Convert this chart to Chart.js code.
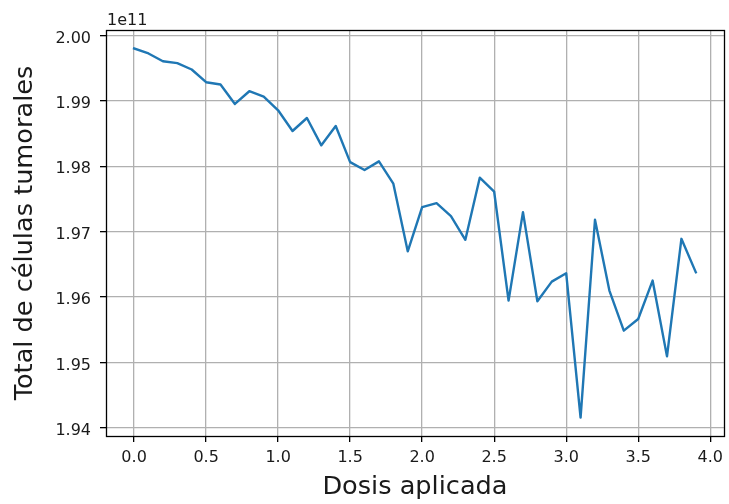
<!DOCTYPE html>
<html>
<head>
<meta charset="utf-8">
<script src="https://cdn.jsdelivr.net/npm/chart.js@4/dist/chart.umd.min.js"></script>
<style>
  html, body { margin: 0; padding: 0; background: #ffffff; }
  #wrap { width: 729px; height: 504px; position: relative; }
</style>
</head>
<body>
<div id="wrap"><canvas id="chart" width="729" height="504"></canvas></div>
<script>
// Applied dose (x) and total tumour cells (y, in units of 1e11)
const DOSE = [0.0, 0.1, 0.2, 0.3, 0.4, 0.5, 0.6, 0.7, 0.8, 0.9,
              1.0, 1.1, 1.2, 1.3, 1.4, 1.5, 1.6, 1.7, 1.8, 1.9,
              2.0, 2.1, 2.2, 2.3, 2.4, 2.5, 2.6, 2.7, 2.8, 2.9,
              3.0, 3.1, 3.2, 3.3, 3.4, 3.5, 3.6, 3.7, 3.8, 3.9];
const TOTAL = [1.99801, 1.99724, 1.99606, 1.99576, 1.99479, 1.99285, 1.99250, 1.98953, 1.99147, 1.99066,
               1.98856, 1.98539, 1.98738, 1.98320, 1.98616, 1.98064, 1.97942, 1.98075, 1.97734, 1.96700,
               1.97375, 1.97437, 1.97237, 1.96876, 1.97825, 1.97611, 1.95946, 1.97299, 1.95936, 1.96237,
               1.96365, 1.94159, 1.97182, 1.96100, 1.95487, 1.95666, 1.96253, 1.95094, 1.96891, 1.96380];
const X_TICKS = [0.0, 0.5, 1.0, 1.5, 2.0, 2.5, 3.0, 3.5, 4.0];
const Y_TICKS = [1.94, 1.95, 1.96, 1.97, 1.98, 1.99, 2.00];
const Y_EXPONENT = '1e11';
const X_TITLE = 'Dosis aplicada';
const Y_TITLE = 'Total de células tumorales';

// 5% padding around the data on both axes
function padded(values) {
  const lo = Math.min(...values), hi = Math.max(...values);
  const m = (hi - lo) * 0.05;
  return [lo - m, hi + m];
}
const [xMin, xMax] = padded(DOSE);
const [yMin, yMax] = padded(TOTAL);

const FONT = '"DejaVu Sans", sans-serif';
const TEXT = '#1a1a1a';

// Closed black frame around the plot area plus the exponent label
const framePlugin = {
  id: 'frame',
  afterDatasetsDraw(chart) {
    const { ctx, chartArea: a } = chart;
    ctx.save();
    ctx.strokeStyle = '#000';
    ctx.lineWidth = 1.3;
    ctx.strokeRect(Math.round(a.left) + 0.5, Math.round(a.top) + 0.5,
                   Math.round(a.right - a.left), Math.round(a.bottom - a.top));
    ctx.fillStyle = TEXT;
    ctx.font = '16px ' + FONT;
    ctx.textAlign = 'left';
    ctx.textBaseline = 'alphabetic';
    ctx.fillText(Y_EXPONENT, a.left + 1, a.top - 5);
    ctx.restore();
  }
};

new Chart(document.getElementById('chart'), {
  type: 'line',
  data: {
    datasets: [{
      data: DOSE.map((d, i) => ({ x: d, y: TOTAL[i] })),
      borderColor: '#1f77b4',
      borderWidth: 2.4,
      borderJoinStyle: 'round',
      borderCapStyle: 'square',
      pointRadius: 0,
      fill: false,
      tension: 0
    }]
  },
  options: {
    responsive: false,
    animation: false,
    layout: { padding: { top: 30, right: 3, left: 0, bottom: 0 } },
    plugins: { legend: { display: false }, tooltip: { enabled: false } },
    scales: {
      x: {
        type: 'linear',
        min: xMin,
        max: xMax,
        afterBuildTicks(scale) { scale.ticks = X_TICKS.map(v => ({ value: v })); },
        afterFit(scale) { scale.height = 68; },
        grid: { color: '#b0b0b0', lineWidth: 1.3, tickColor: '#000', tickLength: 6, tickWidth: 1.3 },
        border: { display: false },
        ticks: {
          color: TEXT, font: { family: FONT, size: 16 }, padding: 6, maxRotation: 0,
          callback: v => Number(v).toFixed(1)
        },
        title: {
          display: true, text: X_TITLE, color: TEXT,
          font: { family: FONT, size: 25.6 }, padding: { top: 0, bottom: 1 }
        }
      },
      y: {
        type: 'linear',
        min: yMin,
        max: yMax,
        afterBuildTicks(scale) { scale.ticks = Y_TICKS.map(v => ({ value: v })); },
        afterFit(scale) { scale.width = 106; },
        grid: { color: '#b0b0b0', lineWidth: 1.3, tickColor: '#000', tickLength: 6, tickWidth: 1.3 },
        border: { display: false },
        ticks: {
          color: TEXT, font: { family: FONT, size: 16 }, padding: 9, labelOffset: 3,
          callback: v => Number(v).toFixed(2)
        },
        title: {
          display: true, text: Y_TITLE, color: TEXT,
          font: { family: FONT, size: 25.6 }, padding: { top: 10, bottom: 0 }
        }
      }
    }
  },
  plugins: [framePlugin]
});
</script>
</body>
</html>
